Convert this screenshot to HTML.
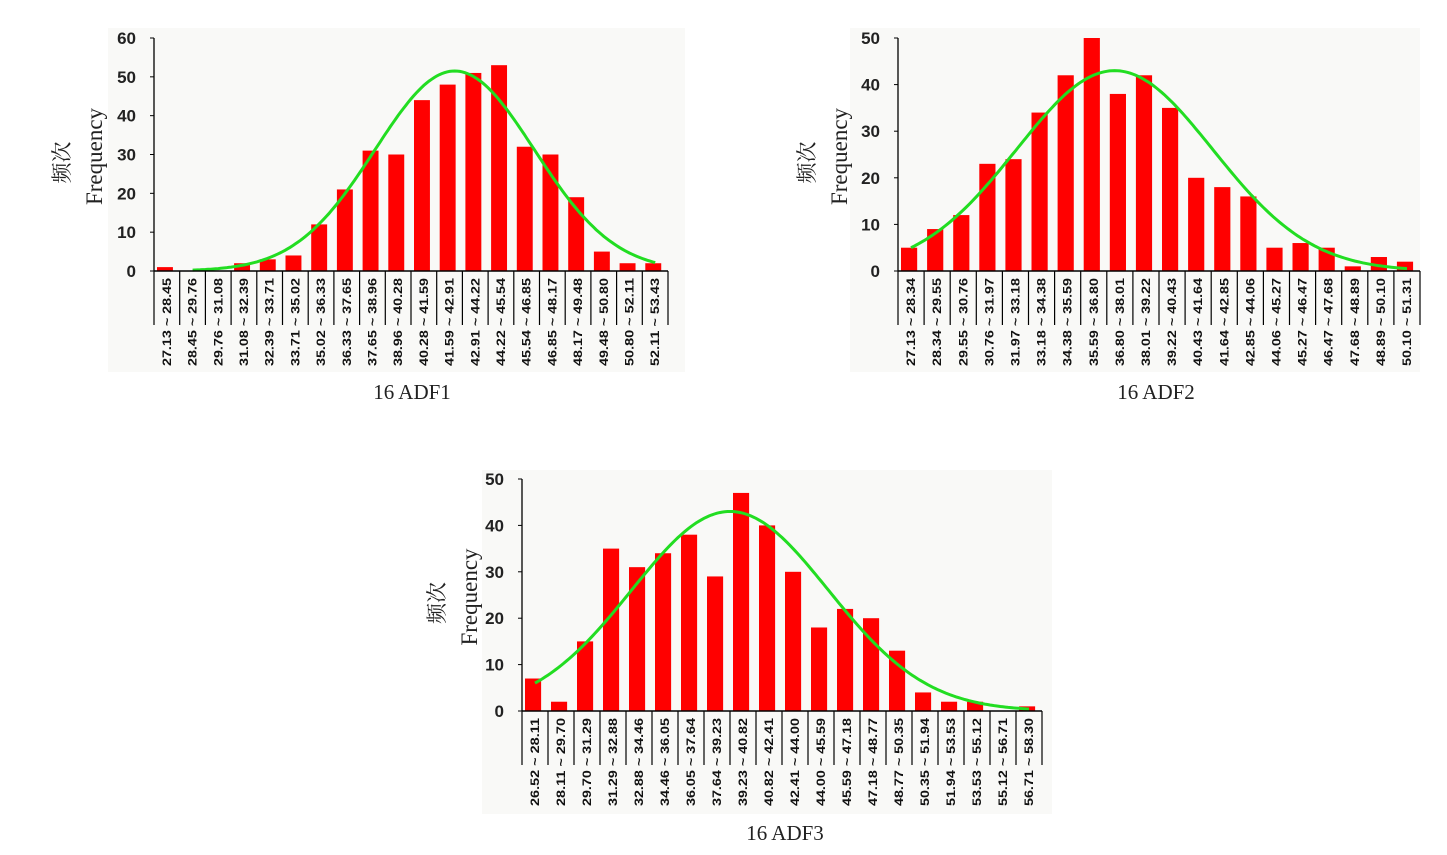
<!DOCTYPE html>
<html><head><meta charset="utf-8"><style>
html,body{margin:0;padding:0;background:#fff;width:1447px;height:855px;overflow:hidden}
</style></head><body>
<svg id="s" width="1447" height="855" xmlns="http://www.w3.org/2000/svg">
<text x="412" y="399" font-family="Liberation Serif, serif" font-size="21" text-anchor="middle" fill="#222">16 ADF1</text>
<text x="1156" y="399" font-family="Liberation Serif, serif" font-size="21" text-anchor="middle" fill="#222">16 ADF2</text>
<text x="785" y="840" font-family="Liberation Serif, serif" font-size="21" text-anchor="middle" fill="#222">16 ADF3</text>
</svg>
<script>
var S=document.getElementById('s'),NS='http://www.w3.org/2000/svg';
function el(t,a,txt){var e=document.createElementNS(NS,t);for(var k in a)e.setAttribute(k,a[k]);if(txt!=null)e.textContent=txt;S.appendChild(e);return e;}
var charts=[
{x0:154,top:38,zero:271,right:668,max:60,step:10,bg:[108,28,685,372],
vals:[1,0,0,2,3,4,12,21,31,30,44,48,51,53,32,30,19,5,2,2],mu:11.2,sig:3.1,pk:51.5,cs:1,
labs:["27.13 ~ 28.45","28.45 ~ 29.76","29.76 ~ 31.08","31.08 ~ 32.39","32.39 ~ 33.71","33.71 ~ 35.02","35.02 ~ 36.33","36.33 ~ 37.65","37.65 ~ 38.96","38.96 ~ 40.28","40.28 ~ 41.59","41.59 ~ 42.91","42.91 ~ 44.22","44.22 ~ 45.54","45.54 ~ 46.85","46.85 ~ 48.17","48.17 ~ 49.48","49.48 ~ 50.80","50.80 ~ 52.11","52.11 ~ 53.43"],lx:95,cx:62},
{x0:898,top:38,zero:271,right:1420,max:50,step:10,bg:[850,28,1420,372],
vals:[5,9,12,23,24,34,42,50,38,42,35,20,18,16,5,6,5,1,3,2],mu:7.8,sig:3.76,pk:43,cs:0,
labs:["27.13 ~ 28.34","28.34 ~ 29.55","29.55 ~ 30.76","30.76 ~ 31.97","31.97 ~ 33.18","33.18 ~ 34.38","34.38 ~ 35.59","35.59 ~ 36.80","36.80 ~ 38.01","38.01 ~ 39.22","39.22 ~ 40.43","40.43 ~ 41.64","41.64 ~ 42.85","42.85 ~ 44.06","44.06 ~ 45.27","45.27 ~ 46.47","46.47 ~ 47.68","47.68 ~ 48.89","48.89 ~ 50.10","50.10 ~ 51.31"],lx:840,cx:807},
{x0:522,top:479,zero:711,right:1042,max:50,step:10,bg:[482,470,1052,814],
vals:[7,2,15,35,31,34,38,29,47,40,30,18,22,20,13,4,2,2,0,1],mu:7.5,sig:3.78,pk:43,cs:0,
labs:["26.52 ~ 28.11","28.11 ~ 29.70","29.70 ~ 31.29","31.29 ~ 32.88","32.88 ~ 34.46","34.46 ~ 36.05","36.05 ~ 37.64","37.64 ~ 39.23","39.23 ~ 40.82","40.82 ~ 42.41","42.41 ~ 44.00","44.00 ~ 45.59","45.59 ~ 47.18","47.18 ~ 48.77","48.77 ~ 50.35","50.35 ~ 51.94","51.94 ~ 53.53","53.53 ~ 55.12","55.12 ~ 56.71","56.71 ~ 58.30"],lx:470,cx:437}
];
charts.forEach(function(c){
 var b=c.bg;el('rect',{x:b[0],y:b[1],width:b[2]-b[0],height:b[3]-b[1],fill:'#f9f9f7'});
 var w=(c.right-c.x0)/20,py=(c.zero-c.top)/c.max;
 for(var i=0;i<20;i++){var v=c.vals[i];if(v>0)el('rect',{x:c.x0+i*w+3,y:c.zero-v*py,width:w*0.62,height:v*py,fill:'#ff0000'});}
 var d='';for(var t=c.cs;t<=19.01;t+=0.1){var y=c.pk*Math.exp(-Math.pow(t-c.mu,2)/(2*c.sig*c.sig));d+=(d?'L':'M')+(c.x0+(t+0.5)*w).toFixed(1)+','+(c.zero-y*py).toFixed(1);}
 el('path',{d:d,fill:'none',stroke:'#22dd22','stroke-width':3});
 el('line',{x1:c.x0,y1:c.top,x2:c.x0,y2:c.zero,stroke:'#000','stroke-width':1.3});
 el('line',{x1:c.x0,y1:c.zero,x2:c.right,y2:c.zero,stroke:'#000','stroke-width':1.5});
 for(var v=0;v<=c.max;v+=c.step){var y=c.zero-v*py;el('line',{x1:c.x0-4,y1:y,x2:c.x0,y2:y,stroke:'#000'});
  el('text',{x:c.x0-18,y:y+6,'font-family':'Liberation Sans, sans-serif','font-size':17,'font-weight':'bold','text-anchor':'end',fill:'#222'},String(v));}
 for(var i=0;i<=20;i++){var x=c.x0+i*w;el('line',{x1:x,y1:c.zero,x2:x,y2:c.zero+54,stroke:'#000','stroke-width':1.2});}
 for(var i=0;i<20;i++){var x=c.x0+(i+0.5)*w+4,y=c.zero+95;
  el('text',{x:0,y:0,transform:'translate('+x+','+y+') rotate(-90)','font-family':'Liberation Sans, sans-serif','font-size':11.5,'font-weight':'bold',fill:'#111',textLength:88,lengthAdjust:'spacingAndGlyphs'},c.labs[i]);}
 var my=(c.top+c.zero)/2+2;
 el('text',{x:0,y:0,transform:'translate('+(c.lx+7)+','+my+') rotate(-90)','font-family':'Liberation Serif, serif','font-size':23,'text-anchor':'middle',fill:'#222'},'Frequency');
 el('text',{x:0,y:0,transform:'translate('+(c.cx+7)+','+(my+6)+') rotate(-90)','font-family':'Liberation Serif, Noto Serif CJK SC, serif','font-size':21,'text-anchor':'middle',fill:'#222'},'频次');
});
</script>
</body></html>
